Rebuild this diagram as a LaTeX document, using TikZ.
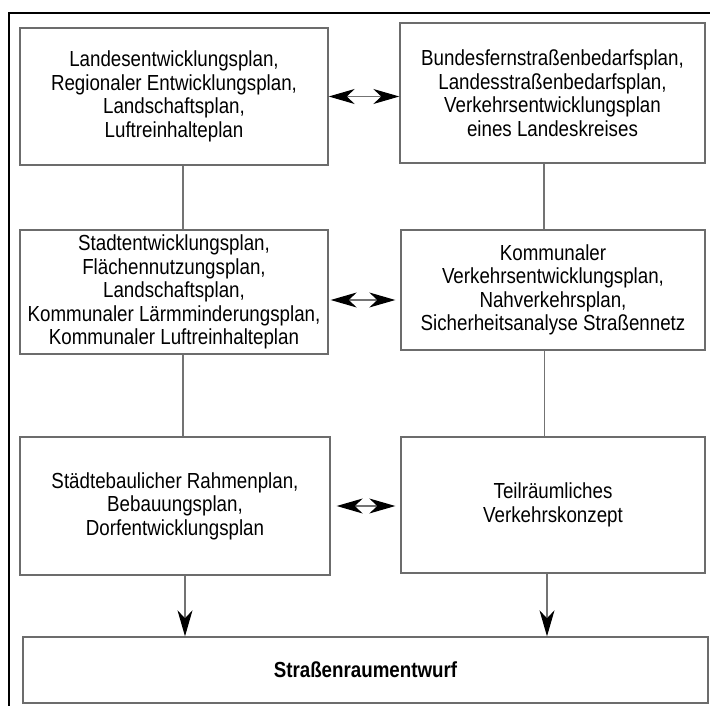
\documentclass[tikz,border=0pt]{standalone}
\usepackage{fontspec}
\setmainfont[FakeStretch=0.86]{Liberation Sans}
\usetikzlibrary{arrows.meta}

\begin{document}
\begin{tikzpicture}[x=1pt, y=-1pt, >={Stealth[length=26pt,width=15pt,inset=8pt,color=black]},
  plan/.style={draw=gray!85!black, line width=1.4pt, fill=white, align=center,
    inner sep=0pt, font=\fontsize{21.8}{23.5}\selectfont},
  link/.style={draw=gray!90!black, line width=1.1pt}]
  \clip (0,0) rectangle (710,706);

  % outer frame
  \draw[line width=2.6pt] (9,720) -- (9,13) -- (720,13);

  % upper row
  \node[plan, minimum width=308pt, minimum height=137pt] (landesplan) at (174,96.5)
    {Landesentwicklungsplan,\\ Regionaler Entwicklungsplan,\\ Landschaftsplan,\\ Luftreinhalteplan};
  \node[plan, minimum width=305pt, minimum height=140pt] (bundesplan) at (552.5,93)
    {Bundesfernstraßenbedarfsplan,\\ Landesstraßenbedarfsplan,\\ Verkehrsentwicklungsplan\\ eines Landeskreises};

  % middle row
  \node[plan, minimum width=308pt, minimum height=124pt] (stadtplan) at (174,292)
    {Stadtentwicklungsplan,\\ Flächennutzungsplan,\\ Landschaftsplan,\\ Kommunaler Lärmminderungsplan,\\ Kommunaler Luftreinhalteplan};
  \node[plan, minimum width=304pt, minimum height=120pt] (verkehrsplan) at (553,290)
    {Kommunaler\\ Verkehrsentwicklungsplan,\\ Nahverkehrsplan,\\ Sicherheitsanalyse Straßennetz};

  % lower row
  \node[plan, minimum width=310pt, minimum height=138pt] (rahmenplan) at (175,506)
    {Städtebaulicher Rahmenplan,\\ Bebauungsplan,\\ Dorfentwicklungsplan};
  \node[plan, minimum width=304pt, minimum height=136pt] (teilkonzept) at (553,505)
    {Teilräumliches\\ Verkehrskonzept};

  % result
  \node[plan, minimum width=685pt, minimum height=66pt] (entwurf) at (365.5,670)
    {\textbf{Straßenraumentwurf}};

  % horizontal links
  \draw[link, <->] (landesplan.east) -- (landesplan.east -| bundesplan.west);
  \draw[link, <->, shorten <=2pt, shorten >=5pt] ([yshift=-8pt]stadtplan.east) -- ([yshift=-8pt]stadtplan.east -| verkehrsplan.west);
  \draw[link, <->, shorten <=6pt, shorten >=5pt] (rahmenplan.east) -- (rahmenplan.east -| teilkonzept.west);

  % vertical links
  \draw[link] ([xshift=9pt]landesplan.south) -- ([xshift=9pt]landesplan.south |- stadtplan.north);
  \draw[link] ([xshift=-8.5pt]bundesplan.south) -- ([xshift=-8.5pt]bundesplan.south |- verkehrsplan.north);
  \draw[link] ([xshift=9pt]stadtplan.south) -- ([xshift=9pt]stadtplan.south |- rahmenplan.north);
  \draw[link] ([xshift=-8.5pt]verkehrsplan.south) -- ([xshift=-8.5pt]verkehrsplan.south |- teilkonzept.north);
  \draw[link, ->] ([xshift=10pt]rahmenplan.south) -- ([xshift=10pt]rahmenplan.south |- entwurf.north);
  \draw[link, ->] ([xshift=-6pt]teilkonzept.south) -- ([xshift=-6pt]teilkonzept.south |- entwurf.north);
\end{tikzpicture}
\end{document}
